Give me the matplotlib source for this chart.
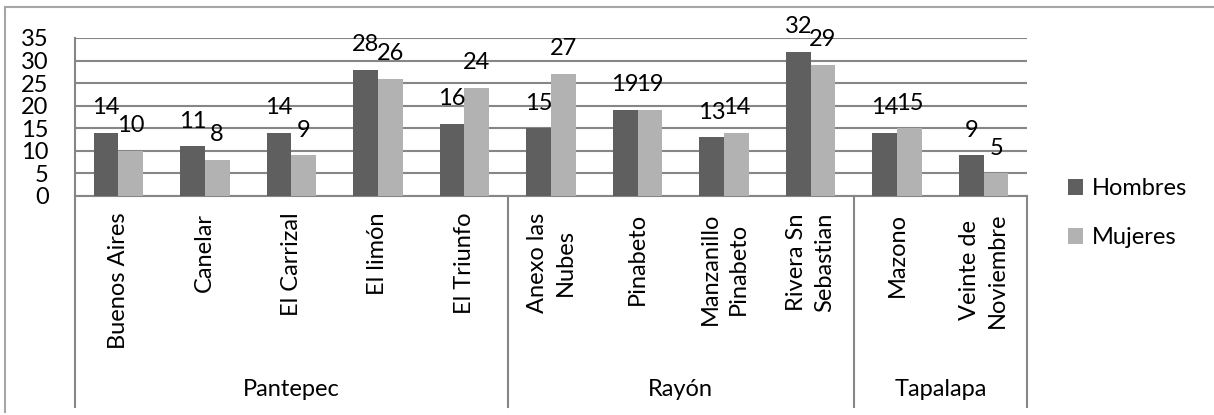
import matplotlib

matplotlib.use("Agg")
import matplotlib.pyplot as plt
from matplotlib.lines import Line2D
import numpy as np

# Population by community, grouped by municipality
categories = [
    "Buenos Aires", "Canelar", "El Carrizal", "El limón", "El Triunfo",
    "Anexo las\nNubes", "Pinabeto", "Manzanillo\nPinabeto", "Rivera Sn\nSebastian",
    "Mazono", "Veinte de\nNoviembre",
]
groups = ["Pantepec", "Rayón", "Tapalapa"]
group_sizes = [5, 4, 2]
hombres = [14, 11, 14, 28, 16, 15, 19, 13, 32, 14, 9]
mujeres = [10, 8, 9, 26, 24, 27, 19, 14, 29, 15, 5]
yticks = [0, 5, 10, 15, 20, 25, 30, 35]

DARK = "#5f5f5f"
LIGHT = "#b2b2b2"
GRID = "#868686"
FS = 17

plt.rcParams["font.family"] = ["Lato", "DejaVu Sans"]

W, H = 1214, 415
fig = plt.figure(figsize=(W / 100, H / 100), dpi=100)
ax = fig.add_axes([75 / W, 1 - 196 / H, (1027 - 75) / W, (196 - 38) / H])

x = np.arange(len(categories))
bw = 1 / 3.5
b1 = ax.bar(x - bw / 2, hombres, bw, color=DARK, label="Hombres", zorder=3)
b2 = ax.bar(x + bw / 2, mujeres, bw, color=LIGHT, label="Mujeres", zorder=3)

for bars, vals in ((b1, hombres), (b2, mujeres)):
    for rect, v in zip(bars, vals):
        ax.annotate(str(v), (rect.get_x() + rect.get_width() / 2, v),
                    xytext=(0, 13.5), textcoords="offset points",
                    ha="center", va="baseline", fontsize=FS, zorder=4)

ax.set_xlim(-0.5, len(categories) - 0.5)
ax.set_ylim(0, 35)
ax.set_yticks(yticks)
ax.yaxis.grid(True, color=GRID, linewidth=1.5, zorder=0)
ax.tick_params(axis="y", length=0, pad=19, labelsize=FS)
ax.set_xticks([])
for side in ("top", "right"):
    ax.spines[side].set_visible(False)
for side in ("left", "bottom"):
    ax.spines[side].set_color(GRID)
    ax.spines[side].set_linewidth(1.5)

# category labels, rotated and hung from the axis
trans = ax.get_xaxis_transform()
for xi, name in zip(x, categories):
    ax.annotate(name, (xi, 0), xycoords=trans, xytext=(0, -12),
                textcoords="offset points", rotation=90, ha="center", va="top",
                multialignment="center", fontsize=FS, linespacing=1.4)

# municipality brackets below the categories
line_bottom = (196 - 407) / (196 - 38)
edges = np.concatenate([[0], np.cumsum(group_sizes)]) - 0.5
for e in edges:
    ax.plot([e, e], [0, line_bottom], transform=trans, color=GRID,
            linewidth=1.5, clip_on=False)
for name, lo, hi in zip(groups, edges[:-1], edges[1:]):
    ax.annotate(name, ((lo + hi) / 2, 0), xycoords=trans,
                xytext=(0, -(396 - 196) * 0.72), textcoords="offset points",
                ha="center", va="baseline", fontsize=FS)

fig.legend(handles=[b1, b2], loc="upper left",
           bbox_to_anchor=(1068 / W, 1 - 178 / H), frameon=False,
           fontsize=FS, handlelength=0.65, handleheight=0.65,
           handletextpad=0.35, labelspacing=1.2, borderpad=0, borderaxespad=0)

# outer chart frame
fig.add_artist(Line2D([5 / W, 5 / W], [1 - 412 / H, 1 - 7 / H], color="#a6a6a6",
                      linewidth=1.5, transform=fig.transFigure))
fig.add_artist(Line2D([5 / W, 1], [1 - 7 / H, 1 - 7 / H], color="#a6a6a6",
                      linewidth=1.5, transform=fig.transFigure))

fig.savefig("out.png", dpi=100)
